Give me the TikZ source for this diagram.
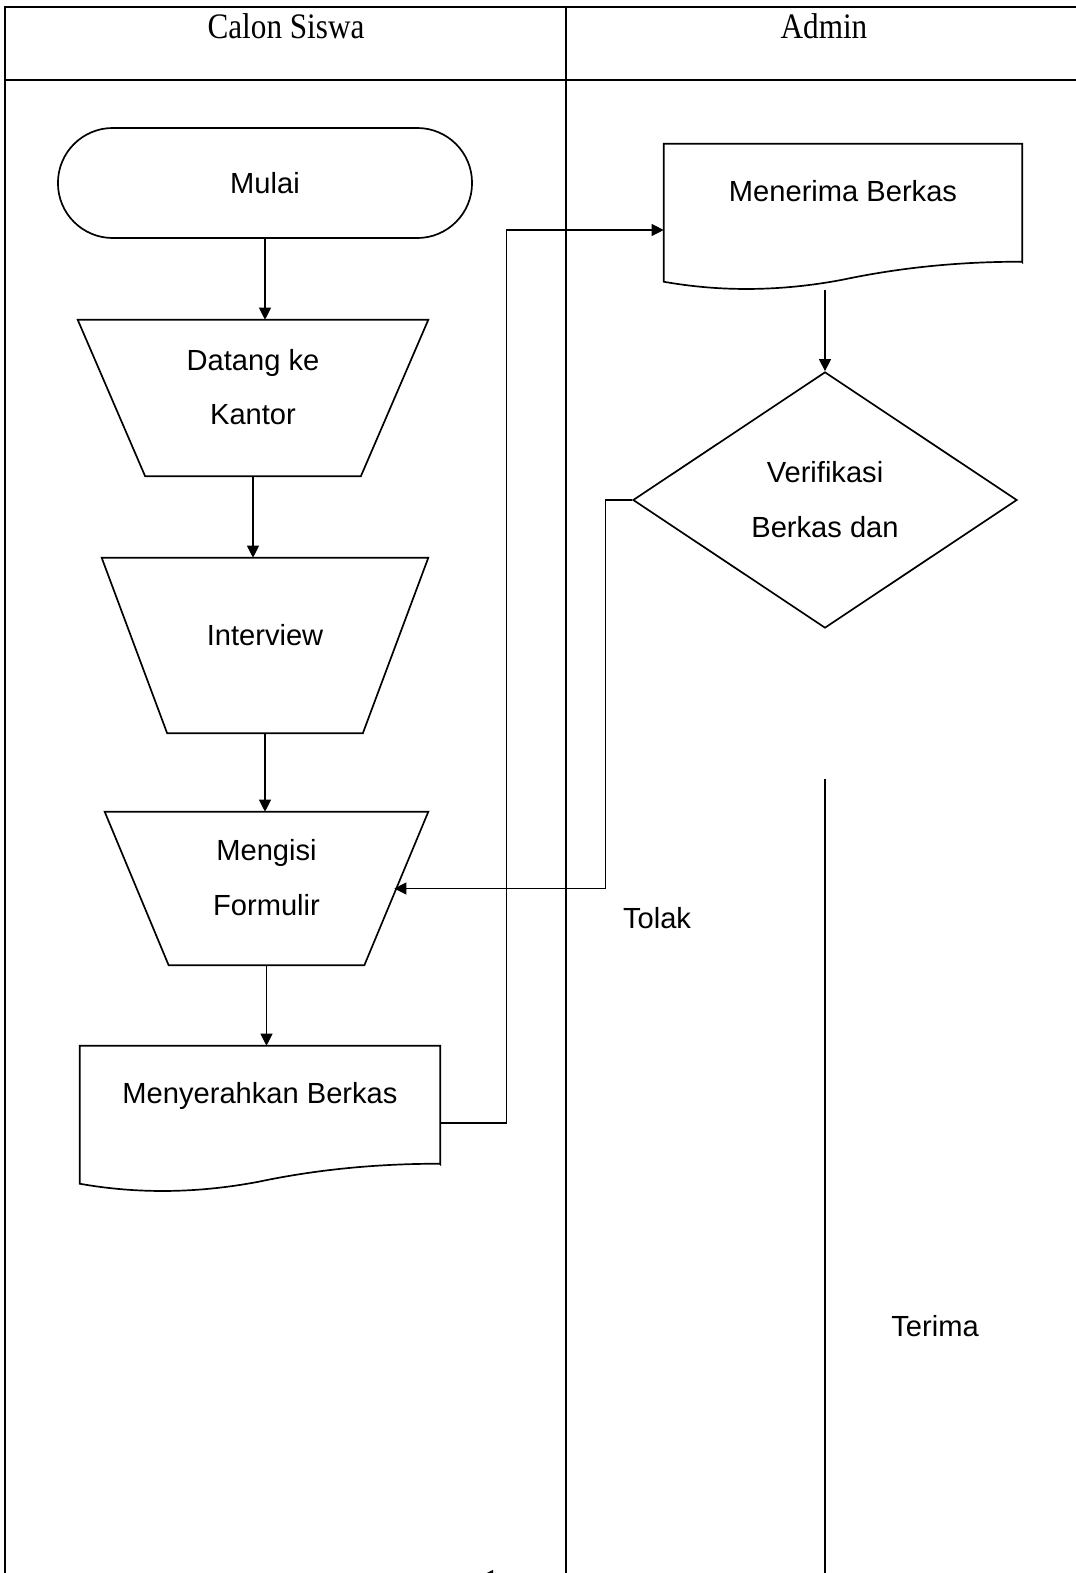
\documentclass[tikz,border=0pt]{standalone}
\usepackage{fontspec}
\setmainfont{Liberation Serif}
\newfontfamily\arialfont{Liberation Sans}
\usetikzlibrary{arrows.meta, calc, shapes.geometric}

\begin{document}
\begin{tikzpicture}[x=0.025cm, y=-0.025cm,
  >={Triangle[length=0.3cm, width=0.3cm]},
  garis/.style={line width=0.8pt},
  tepi/.style={line width=1.2pt},
  bentuk/.style={draw, tepi, font=\arialfont\fontsize{20.7}{39}\selectfont, align=center},
  kotak/.style={font=\arialfont\fontsize{20.7}{39}\selectfont, align=center, inner sep=0pt, text depth=0.55cm},
  judul/.style={font=\fontsize{25.5}{30}\selectfont},
  teks/.style={font=\arialfont\fontsize{20.7}{25}\selectfont}]

\useasboundingbox (0,0) rectangle (1076,1573);

% Swimlane table
\draw[garis] (5,1580) -- (5,7) -- (1080,7);
\draw[garis] (5,80) -- (1080,80);
\draw[garis] (566,7) -- (566,1580);
\node[judul] (calon) at (286,26) {\scalebox{0.87}[1]{Calon Siswa}};
\node[judul] (admin) at (824,26) {\scalebox{0.87}[1]{Admin}};

% Calon Siswa lane
\node[bentuk, rectangle, rounded corners=1.37cm, minimum width=10.35cm, minimum height=2.75cm] (mulai) at (265,183) {Mulai};

\node[kotak, minimum width=8.75cm, minimum height=3.9cm] (datang) at (253,398) {Datang ke\\Kantor};
\draw[tepi] (datang.north west) -- (datang.north east) -- ($(datang.south east)+(-67.5,0)$) -- ($(datang.south west)+(67.5,0)$) -- cycle;

\node[kotak, minimum width=8.15cm, minimum height=4.375cm] (interview) at (265,645.5) {Interview};
\draw[tepi] (interview.north west) -- (interview.north east) -- ($(interview.south east)+(-65.5,0)$) -- ($(interview.south west)+(65.5,0)$) -- cycle;

\node[kotak, minimum width=8.075cm, minimum height=3.825cm] (mengisi) at (266.5,888.5) {Mengisi\\Formulir};
\draw[tepi] (mengisi.north west) -- (mengisi.north east) -- ($(mengisi.south east)+(-64,0)$) -- ($(mengisi.south west)+(64,0)$) -- cycle;

\node[kotak, text depth=0.6cm, minimum width=9cm, minimum height=2.95cm] (menyerahkan) at (260,1105) {Menyerahkan Berkas};
\draw[tepi] (menyerahkan.south east) -- (menyerahkan.north east) -- (menyerahkan.north west) -- ++(0,138)
  .. controls +(56,10) and +(-63,12) .. ++(179,-2)
  .. controls +(57,-12) and +(-64,0) .. ++(181,-18) -- cycle;

% Admin lane
\node[kotak, text depth=0.6cm, minimum width=8.95cm, minimum height=2.95cm] (menerima) at (843,203) {Menerima Berkas};
\draw[tepi] (menerima.south east) -- (menerima.north east) -- (menerima.north west) -- ++(0,138)
  .. controls +(56,10) and +(-63,12) .. ++(179,-2)
  .. controls +(57,-12) and +(-64,0) .. ++(179,-18) -- cycle;
\node[bentuk, diamond, minimum width=9.6cm, minimum height=6.4cm, inner sep=0pt, aspect=1.5] (verifikasi) at (825,500) {Verifikasi\\Berkas dan};

% Flow
\draw[garis, ->] (mulai.south) -- (mulai.south |- datang.north);
\draw[garis, ->] (datang.south) -- (datang.south |- interview.north);
\draw[garis, ->] (interview.south) -- (interview.south |- mengisi.north);
\draw[garis, ->] (mengisi.south) -- (mengisi.south |- menyerahkan.north);
\draw[garis, ->] ([yshift=-0.45cm]menyerahkan.east) -- ++(66,0) |- ([yshift=-0.675cm]menerima.west);
\draw[garis, ->] ([yshift=-0.7cm]menerima.south -| verifikasi.north) -- (verifikasi.north);

% Tolak
\draw[garis, ->] (verifikasi.west) -- ++(-27,0) |- ($(mengisi.east)+(-34,0)$);
\node[teks] (tolak) at (657,918) {Tolak};

% Terima
\coordinate (terimaatas) at (825,779);
\coordinate (terimabawah) at (825,1576);
\coordinate (kembali) at (481,1576);
\draw[garis, ->] (terimaatas) -- (terimabawah) -- (kembali);
\node[teks] (terima) at (935,1326) {Terima};

\end{tikzpicture}
\end{document}
